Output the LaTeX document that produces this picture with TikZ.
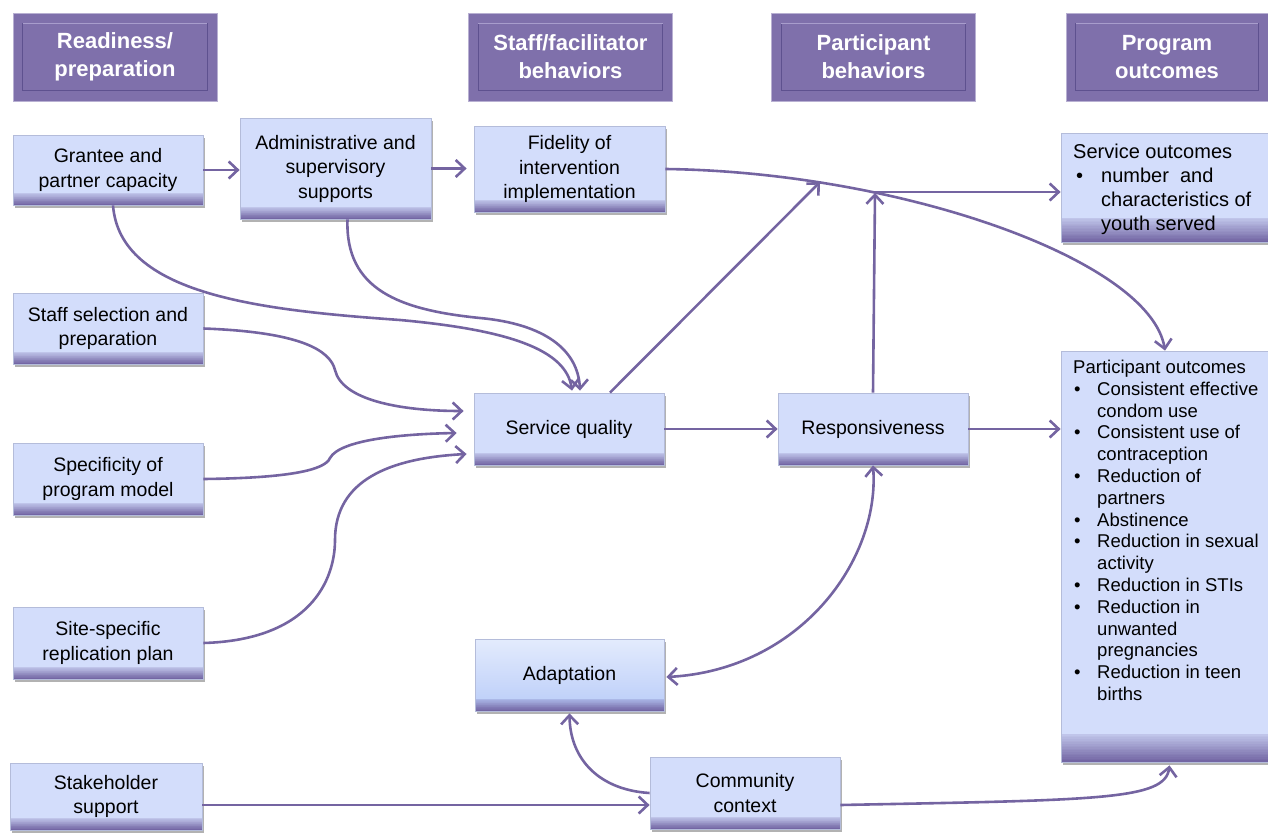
\documentclass[tikz,border=0pt]{standalone}
\usepackage{fontspec}
\setmainfont{Liberation Sans}
\usetikzlibrary{arrows.meta,shadows}
\definecolor{boxfill}{HTML}{D3DDFB}
\definecolor{boxline}{HTML}{B4BCDA}
\definecolor{bandc}{HTML}{7366A4}
\definecolor{hdrfill}{HTML}{7F70AB}
\definecolor{hdrline}{HTML}{B8B0D2}
\definecolor{hdrdark}{HTML}{5E518F}
\definecolor{hdrlight}{HTML}{A89DCC}
\definecolor{linec}{HTML}{7464A1}
\definecolor{adtop}{HTML}{E3EBFD}
\definecolor{adbot}{HTML}{B9CCF8}
\begin{document}
\begin{tikzpicture}[x=1pt,y=-1pt,
  >={Straight Barb[length=9pt,width=17pt]},
  conn/.style={draw=linec, line width=2.6pt},
  band/.style={path picture={
      \foreach \k [evaluate=\k as \pct using {int(20+\k*5)}] in {0,...,16}{
        \fill[bandc!\pct!boxfill]
          ([yshift={(17-\k)*#1/17}]path picture bounding box.south west) rectangle
          ([yshift={(16-\k)*#1/17-0.3}]path picture bounding box.south east);}}},
  adband/.style={path picture={\shade[top color=adtop, bottom color=adbot]
      (path picture bounding box.south west) rectangle (path picture bounding box.north east);
      \foreach \k [evaluate=\k as \pct using {int(20+\k*5)}] in {0,...,16}{
        \fill[bandc!\pct!adbot]
          ([yshift={(17-\k)*#1/17}]path picture bounding box.south west) rectangle
          ([yshift={(16-\k)*#1/17-0.3}]path picture bounding box.south east);}}},
  box/.style={draw=boxline, line width=0.8pt, fill=boxfill, align=center, inner sep=2pt,
      font=\fontsize{19.5}{24.5}\selectfont, band=12,
      execute at begin node={\rule{0pt}{0pt}\vspace*{3pt}},
      drop shadow={shadow xshift=1.5pt, shadow yshift=-3pt, opacity=0.3, fill=black}},
  hdr/.style={draw=hdrline, line width=0.8pt, fill=hdrfill, align=center, text=white,
      font=\fontsize{22}{28}\selectfont\bfseries, minimum width=204pt, minimum height=88pt},
  hdrin/.style={draw=hdrdark, line width=1pt},
  hdrtop/.style={draw=hdrlight, line width=1.4pt},
  txt/.style={inner sep=0pt, anchor=north west, align=left}
]
\useasboundingbox (0,0) rectangle (1268,832);

% headers
\node[hdr] (h1) at (115,57) {Readiness/\\preparation};
\node[hdr] (h2) at (570.5,57) {Staff/facilitator\\behaviors};
\node[hdr] (h3) at (873.5,57) {Participant\\behaviors};
\node[hdr, minimum width=202pt] (h4) at (1167,57) {Program\\outcomes};
\foreach \h in {h1,h2,h3,h4}{
  \draw[hdrin] ([shift={(10,11)}]\h.north west) rectangle ([shift={(-10,-11)}]\h.south east);
  \draw[hdrtop] ([shift={(10,11)}]\h.north west) -- ([shift={(-10,11)}]\h.north east);
}

% boxes
\node[box, minimum width=190pt, minimum height=70pt] (gr) at (108,170) {Grantee and\\partner capacity};
\node[box, minimum width=191pt, minimum height=101pt] (ad) at (335.5,168.5) {Administrative and\\supervisory\\supports};
\node[box, minimum width=191pt, minimum height=86pt] (fi) at (569.5,169) {Fidelity of\\intervention\\implementation};
\node[box, minimum width=207pt, minimum height=109pt, band=24] (so) at (1164.5,187.5) {};
\node[box, minimum width=190pt, minimum height=71pt] (ss) at (108,328.5) {Staff selection and\\preparation};
\node[box, minimum width=190pt, minimum height=72pt] (sq) at (569,429) {Service quality};
\node[box, minimum width=190pt, minimum height=72pt] (rs) at (873,429) {Responsiveness};
\node[box, minimum width=207pt, minimum height=411pt, band=28] (po) at (1164.5,556.5) {};
\node[box, minimum width=190pt, minimum height=72pt] (sp) at (108,479) {Specificity of\\program model};
\node[box, minimum width=190pt, minimum height=72pt] (si) at (108,643) {Site-specific\\replication plan};
\node[box, minimum width=189pt, minimum height=72pt, adband=12] (ap) at (569.5,675) {Adaptation};
\node[box, minimum width=190pt, minimum height=72pt] (cc) at (745,793) {Community\\context};
\node[box, minimum width=192pt, minimum height=67pt] (sh) at (106,796.5) {Stakeholder\\support};

% outcome texts
\node[txt, font=\fontsize{20}{24}\selectfont] (sot) at (1073,141) {%
\begin{tabular}{@{}p{28pt}@{}l@{}}
\multicolumn{2}{@{}l@{}}{Service outcomes}\\
\hspace{3pt}\textbullet & number\ \ and\\
 & characteristics of\\
 & youth served
\end{tabular}};
\node[txt, font=\fontsize{18.5}{21.8}\selectfont] (pot) at (1073,358) {%
\begin{tabular}{@{}p{24pt}@{}l@{}}
\multicolumn{2}{@{}l@{}}{Participant outcomes}\\
\hspace{1pt}\textbullet & Consistent effective\\
 & condom use\\
\hspace{1pt}\textbullet & Consistent use of\\
 & contraception\\
\hspace{1pt}\textbullet & Reduction of\\
 & partners\\
\hspace{1pt}\textbullet & Abstinence\\
\hspace{1pt}\textbullet & Reduction in sexual\\
 & activity\\
\hspace{1pt}\textbullet & Reduction in STIs\\
\hspace{1pt}\textbullet & Reduction in\\
 & unwanted\\
 & pregnancies\\
\hspace{1pt}\textbullet & Reduction in teen\\
 & births
\end{tabular}};

% junction points
\coordinate (fc) at (820,182);
\coordinate (J) at (875,192);

% connectors
\draw[conn,->] (gr.east) -- (ad.west |- gr.east);
\draw[conn,->] (ad.east) -- ([xshift=-7pt]fi.west |- ad.east);
\draw[conn,->] (fi.east) .. controls (900,172) and (1150,260) .. ([xshift=0.5pt]po.north);
\draw[conn,->] (J) -- (J -| so.west);
\draw[conn,->] ([xshift=41pt]sq.north) -- (fc);
\draw[conn,->] (rs.north) -- ([yshift=-1pt]J);
\draw[conn,->] (sq.east) -- (rs.west);
\draw[conn,->] (rs.east) -- (rs.east -| po.west);
\draw[conn,->] ([xshift=5pt]gr.south) .. controls (120,295) and (260,310) .. (400,320)
   .. controls (510,330) and (566,350) .. ([xshift=3pt,yshift=2pt]sq.north);
\draw[conn,->] ([xshift=12pt]ad.south) .. controls (345,290) and (400,310) .. (480,318)
   .. controls (545,324) and (578,350) .. ([xshift=11pt,yshift=2pt]sq.north);
\draw[conn,->] (ss.east) .. controls (300,332) and (330,350) .. (335,370)
   .. controls (342,400) and (400,411) .. ([xshift=-10pt,yshift=18pt]sq.west);
\draw[conn,->] (sp.east) .. controls (290,478) and (325,470) .. (330,458)
   .. controls (340,440) and (400,434) .. ([xshift=-17pt,yshift=-4pt]sq.west);
\draw[conn,->] (si.east) .. controls (310,640) and (335,580) .. (335,540)
   .. controls (335,480) and (390,458) .. ([xshift=-7pt,yshift=-25pt]sq.west);
\draw[conn,<->] (rs.south) .. controls (880,560) and (800,670) .. ([xshift=2pt,yshift=-2pt]ap.east);
\draw[conn,->] (cc.west) .. controls (600,790) and (570,760) .. ([yshift=-2pt]ap.south);
\draw[conn,->] ([yshift=-8.5pt]sh.east) -- ([yshift=-12pt]cc.west);
\draw[conn,->] ([yshift=-12pt]cc.east) .. controls (1100,800) and (1165,800) .. ([xshift=5pt,yshift=-3pt]po.south);
\end{tikzpicture}
\end{document}
